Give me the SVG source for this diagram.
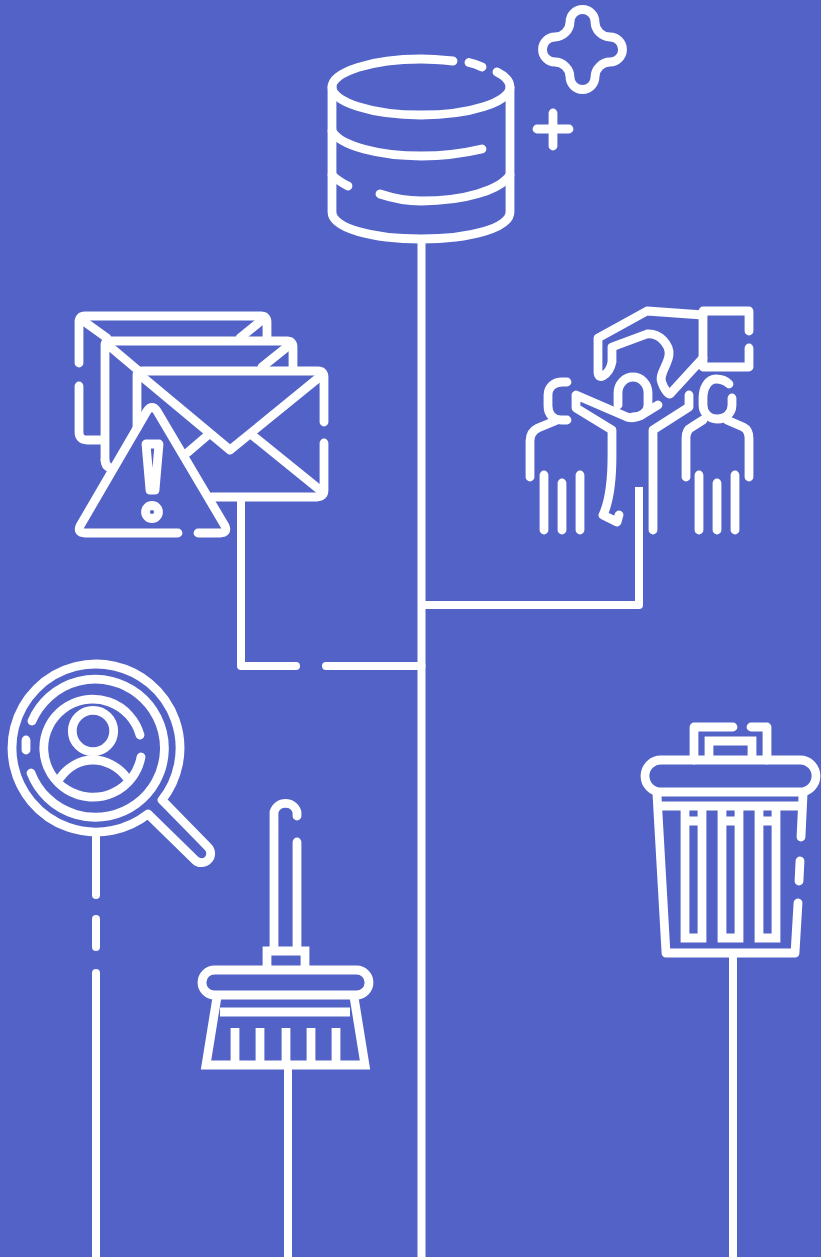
<svg xmlns="http://www.w3.org/2000/svg" width="821" height="1257" viewBox="0 0 821 1257">
<style>
.s{fill:none;stroke:#fff;stroke-width:8.8;stroke-linecap:round;stroke-linejoin:round}
.b{fill:none;stroke:#fff;stroke-width:8.8;stroke-linecap:butt;stroke-linejoin:miter}
.c{fill:none;stroke:#fff;stroke-width:8;stroke-linecap:butt;stroke-linejoin:round}
</style>
<rect width="821" height="1257" fill="#5262C7"/>
<g id="connectors">
<path class="c" d="M421.5 240V1257"/>
<path class="c" d="M639 487V605H421.5"/>
<path class="s" style="stroke-width:8" d="M241 497V666H296M326 666H421.5"/>
<path class="s" style="stroke-width:8" d="M96 832V895M96 919V947M96 973V1257"/>
<path class="c" d="M288 1066V1257"/>
<path class="c" d="M733 955V1257"/>
</g>
<g id="database">
<path class="s" d="M497 72C505 76 510 81 510 87C510 102 470 115 421 115C372 115 332 102 332 87C332 72 372 59 421 59C432 59 443 60 453 61M469 62.5Q476 64 482 67"/>
<path class="s" d="M332 87V212C332 228 372 239 421 239C470 239 510 228 510 212V87"/>
<path class="s" d="M332 131C340 146 380 156 421 156C445 156 465 153 482 149"/>
<path class="s" d="M510 175C500 190 465 201 421 201C405 201 392 198 380 194"/>
<path class="s" d="M332 175Q338 181 348 186"/>
</g>
<g id="sparkle">
<path class="s" d="M570 22A12.5 12.5 0 0 1 595 22C595 30 602 37 610 37A12.5 12.5 0 0 1 610 62C602 62 595 69 595 77A12.5 12.5 0 0 1 570 77C570 69 563 62 555 62A12.5 12.5 0 0 1 555 37C563 37 570 30 570 22Z"/>
<path class="s" d="M537 129H569M553 113V146"/>
</g>
<g id="people">
<path class="s" d="M749 331V311H703V367H749V348"/>
<path class="s" d="M703 315L647 311L598 338V372Q598 378 603 376Q610 372 612 362V347L647 334C660 333 670 345 669 355C668 365 658 375 662 383C664 389 668 394 670 394L703 358"/>
<path class="s" d="M567 382H562C553 382 548 388 548 395V406C548 414 553 420 561 420H567"/>
<path class="s" d="M555 421L538 428Q530 432 530 441V477"/>
<path class="s" d="M544 475V530M562 483V530M580 475V530"/>
<path class="s" d="M618 405V393C618 384 625 377 633 377C641 377 648 384 648 393V405C648 412 641 417 633 417"/>
<path class="s" d="M658 405L640 416Q633 419 627 417L576 395V408L612 430V455C612 480 610 500 603 515L617 522L619 515"/>
<path class="s" d="M653 530V430L689 407V395"/>
<path class="s" d="M729 384Q724 379 716 379C708 379 703 388 703 398V405C703 413 709 419 717 419C726 419 732 413 732 405V398"/>
<path class="s" d="M703 420L692 427Q686 430 686 438V477M727 420L743 427Q749 430 749 438V477"/>
<path class="s" d="M699 475V530M717 483V530M735 475V530"/>
</g>
<g id="mail-alert">
<path class="s" d="M79 363V322Q79 316 85 316H261Q267 316 267 322V337"/>
<path class="s" d="M79 386V432Q79 440 87 440H102"/>
<path class="s" d="M82 320L107 338M262 320L240 338"/>
<path class="s" d="M105 460V345Q105 341 110 341H287Q293 341 293 347V367"/>
<path class="s" d="M105 460Q105 466 110 468M108 345L140 372M287 347L262 367"/>
<path class="s" d="M137 428V375Q137 371 142 371H318Q324 371 324 377V422"/>
<path class="s" d="M324 443V490Q324 497 317 497H212"/>
<path class="s" d="M140 375L230 450L322 375"/>
<path class="s" d="M208 435L187 453M252 435L320 490"/>
<path class="s" d="M178 533H85Q77 533 80 526L147 411Q152 404 157 411L225 526Q228 533 220 533H198"/>
<path class="s" d="M146 444H159L155 490H150Z"/>
<circle class="s" cx="152" cy="512" r="6.5"/>
</g>
<g id="search-user">
<path class="s" d="M162 800A84 84 0 1 0 148 814L195 860A7.5 7.5 0 0 0 208 847Z"/>
<path class="s" d="M32 721A69 69 0 1 1 31 773M26 740V750"/>
<path class="s" d="M140 735A49 49 0 1 0 141 757"/>
<circle class="s" cx="93" cy="731" r="20.7"/>
<path class="s" d="M60 778C68 767 80 760 93 760C106 760 119 767 127 778"/>
</g>
<g id="broom">
<path class="s" d="M297 816V812A12 12 0 0 0 274 812V947M297 842V947"/>
<path class="b" d="M267 968V951H305V968"/>
<rect class="b" x="202" y="970" width="167" height="25" rx="12.5"/>
<path class="b" d="M217 997L206 1065H365L354 997M220 1012H350"/>
<path class="b" d="M235 1028V1065M260 1028V1065M286 1028V1065M311 1028V1065M336 1028V1065"/>
</g>
<g id="trash">
<path class="s" d="M733 727H694V760M751 727H767V760"/>
<path class="b" d="M709 760V741H752V760"/>
<rect class="b" x="645" y="760" width="171" height="32" rx="16"/>
<path class="s" d="M657 795L666 953H795L798 903M800 861L799 881M801 837L803 795"/>
<path class="b" d="M660 806H800"/>
<path class="b" d="M685 806V938H702V806M722 806V938H739V806M759 806V938H776V806"/>
<path class="b" d="M685 821H702M722 821H739M759 821H776"/>
</g>
</svg>
